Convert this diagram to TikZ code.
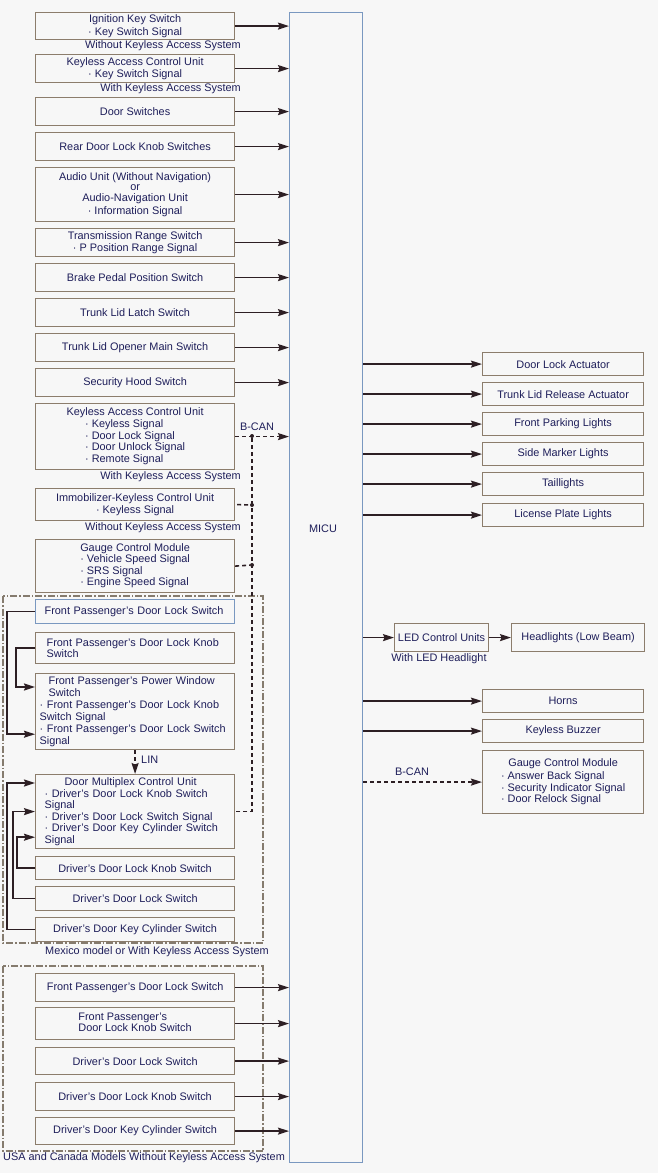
\documentclass[tikz,border=0pt]{standalone}
\usepackage{fontspec}
\setmainfont{Liberation Sans}
\usepackage{xcolor}
\definecolor{cBg}{HTML}{F7F7F7}
\definecolor{cBox}{HTML}{8C7D6C}
\definecolor{cBlue}{HTML}{7A98C0}
\definecolor{cText}{HTML}{1E1E5A}
\definecolor{cWire}{HTML}{2D1F24}
\definecolor{cGroup}{HTML}{857B6E}
\usepackage{tikz}
\usetikzlibrary{positioning,arrows.meta,calc}
\newcommand{\boxfont}{\fontsize{10.9}{11.6}\selectfont}
\tikzset{
  node-box/.style={draw=cBox,line width=1.2pt,anchor=north west,
    minimum width=199pt,align=center,font=\boxfont,text=cText,inner sep=2pt},
  node-out/.style={node-box,minimum width=161pt,minimum height=23pt},
  node-blue/.style={draw=cBlue},
  node-micu/.style={draw=cBlue,line width=1.2pt,anchor=north west,
    minimum width=73pt,minimum height=1150pt},
  note/.style={font=\boxfont,text=cText,inner sep=0pt},
  jdot/.style={circle,fill=cWire,inner sep=0pt,minimum size=4pt},
  arrow/.style={-{Stealth[length=11pt,width=7pt,inset=1.5pt]},line width=1.6pt,draw=cWire},
  wire/.style={line width=1.6pt,draw=cWire},
  wire-can/.style={line width=1.6pt,draw=cWire,dash pattern=on 4pt off 3pt},
  arrow-can/.style={arrow,dash pattern=on 4pt off 3pt},
  group/.style={draw=cGroup,line width=1.2pt,dash pattern=on 7pt off 2pt on 1.5pt off 2pt},
}

\begin{document}
\begin{tikzpicture}[x=1pt,y=-1pt]
  \fill[cBg] (0,0) rectangle (658,1173);
  \useasboundingbox (0,0) rectangle (658,1173);

  \node[node-micu] (micu) at (289,12) {};
  \node[note] (micul) at (323,529) {MICU};

  \foreach \name/\top/\h/\txt in {
      igk/12/27/{Ignition Key Switch\\[1pt]· Key Switch Signal},
      kacu/54/28/{Keyless Access Control Unit\\· Key Switch Signal},
      dsw/97/28/Door Switches,
      rdks/132/28/Rear Door Lock Knob Switches,
      audio/167/54/{Audio Unit (Without Navigation)\\[-1pt]or\\[-1pt]Audio-Navigation Unit\\[2pt]· Information Signal},
      trs/228/28/{Transmission Range Switch\\· P Position Range Signal},
      bpps/263/28/Brake Pedal Position Switch,
      tlls/298/28/Trunk Lid Latch Switch,
      tloms/333/28/Trunk Lid Opener Main Switch,
      shs/368/28/Security Hood Switch} {
    \node[node-box,minimum height=\h pt] (\name) at (35,\top) {\txt};
    \draw[arrow] (\name.east) -- (\name.east -| micu.west);
  }
  \node[note,anchor=east] (nokey1) at (241,46) {Without Keyless Access System};
  \node[note,anchor=east] (withkey1) at (241,89) {With Keyless Access System};

  % B-CAN units
  \node[node-box,minimum height=66pt] (kacub) at (35,403)
    {Keyless Access Control Unit\\[1pt]\begin{tabular}{@{}l@{}}· Keyless Signal\\· Door Lock Signal\\· Door Unlock Signal\\· Remote Signal\end{tabular}};
  \node[note,anchor=east] (withkey2) at (241,477) {With Keyless Access System};
  \node[node-box,minimum height=32pt] (imm) at (35,488)
    {Immobilizer-Keyless Control Unit\\· Keyless Signal};
  \node[note,anchor=east] (nokey2) at (241,528) {Without Keyless Access System};
  \node[node-box,minimum height=53pt] (gcm) at (35,539)
    {Gauge Control Module\\\begin{tabular}{@{}l@{}}· Vehicle Speed Signal\\· SRS Signal\\· Engine Speed Signal\end{tabular}};

  % Mexico model or with keyless access
  \draw[group] (3,596) rectangle (263,943);
  \node[note] (mexl) at (157,952) {Mexico model or With Keyless Access System};
  \node[node-box,node-blue,align=left,text width=181pt,inner xsep=9pt,minimum height=24pt] (fpls) at (35,599)
    {Front Passenger's Door Lock Switch};
  \node[node-box,align=left,text width=177pt,inner xsep=11pt,minimum height=31pt] (fpkn) at (35,632)
    {Front Passenger's Door Lock Knob\\Switch};
  \node[node-box,align=left,text width=191pt,inner xsep=4pt,minimum height=76pt] (fpw) at (35,673)
    {\hspace*{9pt}Front Passenger's Power Window\\\hspace*{9pt}Switch\\[1pt]· Front Passenger's Door Lock Knob\\Switch Signal\\[1pt]· Front Passenger's Door Lock Switch\\Signal};
  \node[node-box,align=left,text width=181pt,inner xsep=9pt,minimum height=74pt] (dmcu) at (35,774)
    {\hspace*{20pt}Door Multiplex Control Unit\\· Driver's Door Lock Knob Switch\\Signal\\· Driver's Door Lock Switch Signal\\· Driver's Door Key Cylinder Switch\\Signal};
  \node[node-box,minimum height=23pt] (dkn) at (35,856) {Driver's Door Lock Knob Switch};
  \node[node-box,minimum height=24pt] (dls) at (35,886) {Driver's Door Lock Switch};
  \node[node-box,minimum height=24pt] (dkc) at (35,917) {Driver's Door Key Cylinder Switch};

  \draw[arrow] (fpls.west) -- ++(-28,0) |- ([yshift=16pt]fpw.south west);
  \draw[arrow] (fpkn.west) -- ++(-19,0) |- ([yshift=-14pt]fpw.north west);
  \draw[arrow,dash pattern=on 4pt off 3pt] (fpw.south) -- (dmcu.north);
  \node[note,anchor=west] (lin) at (141,760) {LIN};
  \draw[arrow] (dkc.west) -- ++(-28,0) |- ([yshift=-9pt]dmcu.north west);
  \draw[arrow] (dls.west) -- ++(-22,0) |- (dmcu.west);
  \draw[arrow] (dkn.west) -- ++(-18,0) |- ([yshift=12pt]dmcu.south west);

  % B-CAN bus
  \node[jdot] (j1) at (252,436) {};
  \node[jdot] (j2) at (252,505) {};
  \node[jdot] (j3) at (252,565) {};
  \draw[arrow-can] (kacub.east) -- (kacub.east -| micu.west);
  \node[note] (bcanl) at (257,427) {B-CAN};
  \draw[wire-can] ([xshift=2pt]imm.east) -- (j2);
  \draw[wire-can] (gcm.east) -- (j3);
  \draw[wire-can] (j1) -- (j1 |- dmcu.east) -- (dmcu.east);

  % USA and Canada
  \draw[group] (3,966) rectangle (263,1151);
  \node[note,anchor=west] (usal) at (3,1158) {USA and Canada Models Without Keyless Access System};
  \foreach \name/\top/\h/\txt in {
      ufpls/973/28/Front Passenger's Door Lock Switch,
      ufpkn/1007/32/{\begin{tabular}{@{}l@{}}Front Passenger's\\Door Lock Knob Switch\end{tabular}},
      udls/1047/27/Driver's Door Lock Switch,
      udkn/1082/28/Driver's Door Lock Knob Switch,
      udkc/1117/27/Driver's Door Key Cylinder Switch} {
    \node[node-box,minimum height=\h pt] (\name) at (35,\top) {\txt};
    \draw[arrow] (\name.east) -- (\name.east -| micu.west);
  }

  % outputs
  \foreach \name/\top/\txt in {dla/352/Door Lock Actuator, tlra/382/Trunk Lid Release Actuator,
      fpl/412/Front Parking Lights, sml/442/Side Marker Lights, tail/472/Taillights,
      lpl/503/License Plate Lights, horn/689/Horns, kbz/719/Keyless Buzzer} {
    \node[node-out] (\name) at (482,\top) {\txt};
    \draw[arrow] (\name.west -| micu.east) -- (\name.west);
  }
  \node[node-box,minimum width=94pt,minimum height=28pt] (led) at (394,623) {LED Control Units};
  \node[node-box,minimum width=133pt,minimum height=28pt] (head) at (511,623) {Headlights (Low Beam)};
  \node[note] (ledl) at (439,659) {With LED Headlight};
  \draw[arrow] (led.west -| micu.east) -- (led.west);
  \draw[arrow] (led.east) -- (head.west);
  \node[node-out,minimum height=63pt] (gcm2) at (482,750)
    {Gauge Control Module\\[2pt]\begin{tabular}{@{}l@{}}· Answer Back Signal\\· Security Indicator Signal\\· Door Relock Signal\end{tabular}};
  \draw[arrow-can] (gcm2.west -| micu.east) -- (gcm2.west);
  \node[note] (bcanr) at (412,772) {B-CAN};
\end{tikzpicture}
\end{document}
